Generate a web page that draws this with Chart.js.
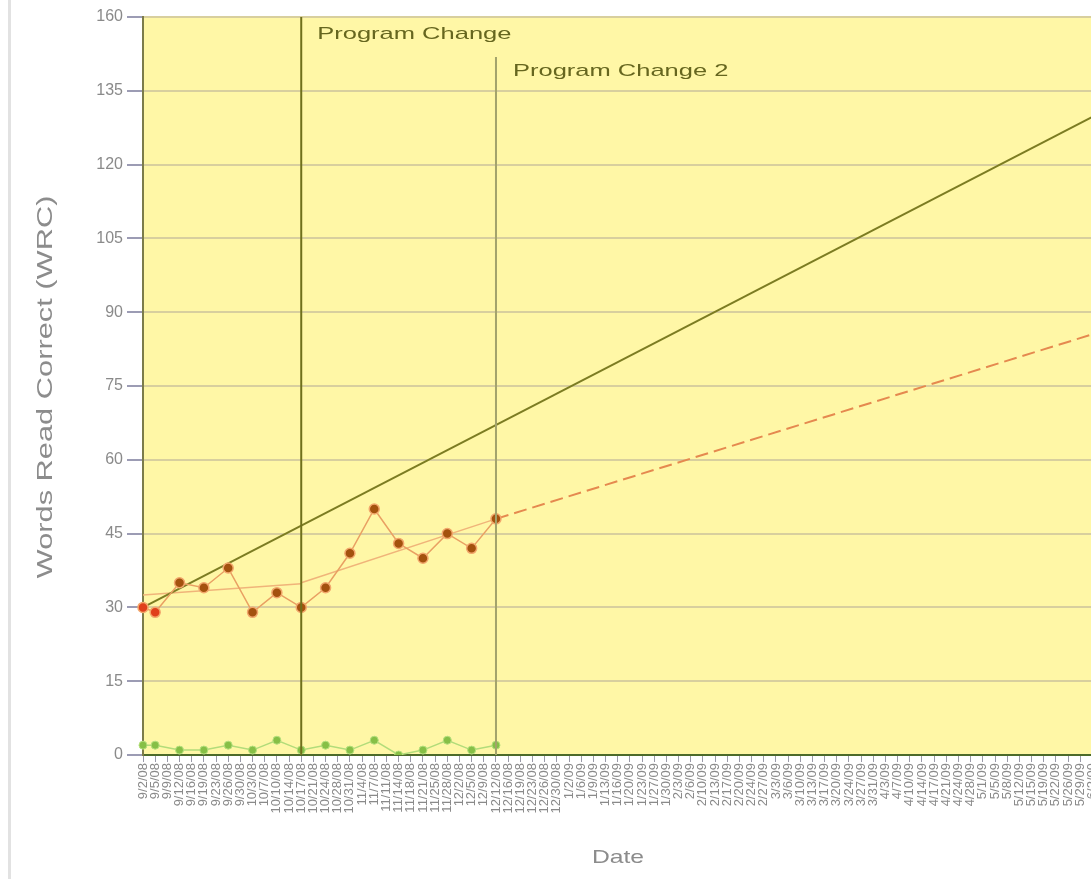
<!DOCTYPE html>
<html>
<head>
<meta charset="utf-8">
<script src="https://cdn.jsdelivr.net/npm/chart.js@4.4.1/dist/chart.umd.min.js"></script>
<style>
  html, body { margin: 0; padding: 0; background: #ffffff; overflow: hidden; width: 1091px; height: 879px; }
  #frame { position: absolute; left: 8px; top: 0; width: 3px; height: 879px; background: #e2e2e2; }
  #wrap { position: absolute; left: 0; top: 0; width: 1109px; height: 879px; }
</style>
</head>
<body>
<div id="frame"></div>
<div id="wrap"><canvas id="c" width="1109" height="879"></canvas></div>
<script>
// ---- data ----
const dateLabels = ['9/2/08','9/5/08','9/9/08','9/12/08','9/16/08','9/19/08','9/23/08','9/26/08','9/30/08','10/3/08',
  '10/7/08','10/10/08','10/14/08','10/17/08','10/21/08','10/24/08','10/28/08','10/31/08','11/4/08','11/7/08',
  '11/11/08','11/14/08','11/18/08','11/21/08','11/25/08','11/28/08','12/2/08','12/5/08','12/9/08','12/12/08',
  '12/16/08','12/19/08','12/23/08','12/26/08','12/30/08','1/2/09','1/6/09','1/9/09','1/13/09','1/16/09',
  '1/20/09','1/23/09','1/27/09','1/30/09','2/3/09','2/6/09','2/10/09','2/13/09','2/17/09','2/20/09',
  '2/24/09','2/27/09','3/3/09','3/6/09','3/10/09','3/13/09','3/17/09','3/20/09','3/24/09','3/27/09',
  '3/31/09','4/3/09','4/7/09','4/10/09','4/14/09','4/17/09','4/21/09','4/24/09','4/28/09','5/1/09',
  '5/5/09','5/8/09','5/12/09','5/15/09','5/19/09','5/22/09','5/26/09','5/29/09','6/2/09'];
const scoreDates = ['9/2/08','9/5/08','9/12/08','9/19/08','9/26/08','10/3/08','10/10/08','10/17/08','10/24/08','10/31/08',
  '11/7/08','11/14/08','11/21/08','11/28/08','12/5/08','12/12/08'];
const wordsCorrect = [30, 29, 35, 34, 38, 29, 33, 30, 34, 41, 50, 43, 40, 45, 42, 48];
const errors       = [2, 2, 1, 1, 2, 1, 3, 1, 2, 1, 3, 0, 1, 3, 1, 2];
const aimDates  = ['9/2/08', '6/2/09'];
const aimValues = [30, 129.7];
const trend1Dates  = ['9/2/08', '10/17/08'];
const trend1Values = [32.5, 34.8];
const trend2Dates  = ['10/17/08', '12/12/08'];
const trend2Values = [35, 48];
const projDates  = ['12/12/08', '6/2/09'];
const projValues = [48, 85.5];
const yTickLabels = ['0','15','30','45','60','75','90','105','120','135','160'];
const yTitle = 'Words Read Correct (WRC)';
const xTitle = 'Date';
const phaseChanges = [
  { date: '10/17/08', text: 'Program Change' },
  { date: '12/12/08', text: 'Program Change 2' }
];

// ---- build sparse series on the category axis ----
function sparse(dates, vals) {
  const arr = dateLabels.map(() => null);
  dates.forEach((d, i) => { arr[dateLabels.indexOf(d)] = vals[i]; });
  return arr;
}

const FONT = '"Liberation Sans", Arial, sans-serif';

const plotBg = {
  id: 'plotBg',
  beforeDraw(chart) {
    const { ctx, chartArea: a } = chart;
    ctx.save();
    ctx.fillStyle = '#fff7a6';
    ctx.fillRect(a.left, a.top, a.right - a.left, a.bottom - a.top);
    ctx.restore();
  }
};

function stretchedText(ctx, text, x, y, sx, align) {
  ctx.save();
  ctx.translate(x, y);
  ctx.scale(sx, 1);
  ctx.textAlign = align;
  ctx.fillText(text, 0, 0);
  ctx.restore();
}

const titles = {
  id: 'titles',
  afterDraw(chart) {
    const { ctx, chartArea: a } = chart;
    ctx.save();
    ctx.fillStyle = '#8c8c8c';
    ctx.textBaseline = 'middle';
    ctx.font = '22px ' + FONT;
    ctx.save();
    ctx.translate(46, (a.top + a.bottom) / 2 + 1);
    ctx.rotate(-Math.PI / 2);
    stretchedText(ctx, yTitle, 0, 0, 1.4, 'center');
    ctx.restore();
    ctx.font = '19px ' + FONT;
    stretchedText(ctx, xTitle, 618, 858, 1.3, 'center');
    ctx.restore();
  }
};

const phaseLines = {
  id: 'phaseLines',
  afterDatasetsDraw(chart) {
    const { ctx, chartArea: a, scales } = chart;
    const styles = [
      { color: '#6f6f1c', top: a.top, textY: 34, dx: 16 },
      { color: '#a3a36c', top: 57, textY: 71, dx: 17 }
    ];
    ctx.save();
    phaseChanges.forEach((p, i) => {
      const s = styles[i];
      const x = scales.x.getPixelForValue(dateLabels.indexOf(p.date));
      ctx.strokeStyle = s.color;
      ctx.lineWidth = 2;
      ctx.beginPath();
      ctx.moveTo(x, s.top);
      ctx.lineTo(x, a.bottom);
      ctx.stroke();
      ctx.fillStyle = '#66661f';
      ctx.font = '17px ' + FONT;
      ctx.textBaseline = 'middle';
      stretchedText(ctx, p.text, x + s.dx, s.textY, 1.5, 'left');
    });
    ctx.restore();
  }
};

const pointFill = scoreDates.map((d, i) => i < 2 ? '#e0401c' : '#a4520e');
const wcData = sparse(scoreDates, wordsCorrect);
const wcColors = dateLabels.map(d => {
  const k = scoreDates.indexOf(d);
  return k >= 0 ? pointFill[k] : '#a4520e';
});

new Chart(document.getElementById('c'), {
  type: 'line',
  data: {
    labels: dateLabels,
    datasets: [
      {
        label: 'Trend 1', data: sparse(trend1Dates, trend1Values), spanGaps: true,
        borderColor: '#f0b47a', borderWidth: 1.5, pointRadius: 0, order: 5
      },
      {
        label: 'Trend 2', data: sparse(trend2Dates, trend2Values), spanGaps: true,
        borderColor: '#f0b47a', borderWidth: 1.5, pointRadius: 0, order: 5
      },
      {
        label: 'Projection', data: sparse(projDates, projValues), spanGaps: true,
        borderColor: '#e5894f', borderWidth: 2, borderDash: [13, 6], pointRadius: 0, order: 4
      },
      {
        label: 'Aimline', data: sparse(aimDates, aimValues), spanGaps: true,
        borderColor: '#7c7c22', borderWidth: 2, pointRadius: 0, order: 3
      },
      {
        label: 'Errors', data: sparse(scoreDates, errors), spanGaps: true,
        borderColor: '#b2dc7a', borderWidth: 1.5,
        pointRadius: 4, pointBackgroundColor: '#86bf46', pointBorderColor: '#b6e07e', pointBorderWidth: 1,
        order: 2
      },
      {
        label: 'Words Read Correct', data: wcData, spanGaps: true,
        borderColor: '#e9a063', borderWidth: 1.5,
        pointRadius: 5, pointBackgroundColor: wcColors, pointBorderColor: '#f2a76c', pointBorderWidth: 1.5,
        order: 1
      }
    ]
  },
  options: {
    responsive: false,
    animation: false,
    devicePixelRatio: 1,
    layout: { padding: { top: 17, left: 30, right: 0, bottom: 0 } },
    plugins: { legend: { display: false }, tooltip: { enabled: false } },
    scales: {
      x: {
        type: 'category',
        offset: false,
        border: { display: true, color: '#4d6b2a', width: 2 },
        grid: { display: true, drawOnChartArea: false, drawTicks: true, tickLength: 7, tickColor: '#9a9aa8' },
        ticks: {
          autoSkip: false, minRotation: 90, maxRotation: 90, padding: 1,
          color: '#8a8a8a', font: { family: FONT, size: 13 }
        },
        title: { display: false, text: xTitle },
        afterFit(scale) { scale.height = 124; }
      },
      y: {
        min: 0, max: 150,
        border: { display: true, color: '#7c7c4a', width: 2 },
        grid: { color: '#d8cf9e', lineWidth: 2, tickLength: 16, tickColor: '#9c9cb4', tickWidth: 2 },
        ticks: {
          stepSize: 15, padding: 4, color: '#8a8a8a',
          font: { family: FONT, size: 16 },
          callback: (v, i) => yTickLabels[i]
        },
        title: { display: false, text: yTitle },
        afterFit(scale) { scale.width = 113; }
      }
    }
  },
  plugins: [plotBg, phaseLines, titles]
});
</script>
</body>
</html>
